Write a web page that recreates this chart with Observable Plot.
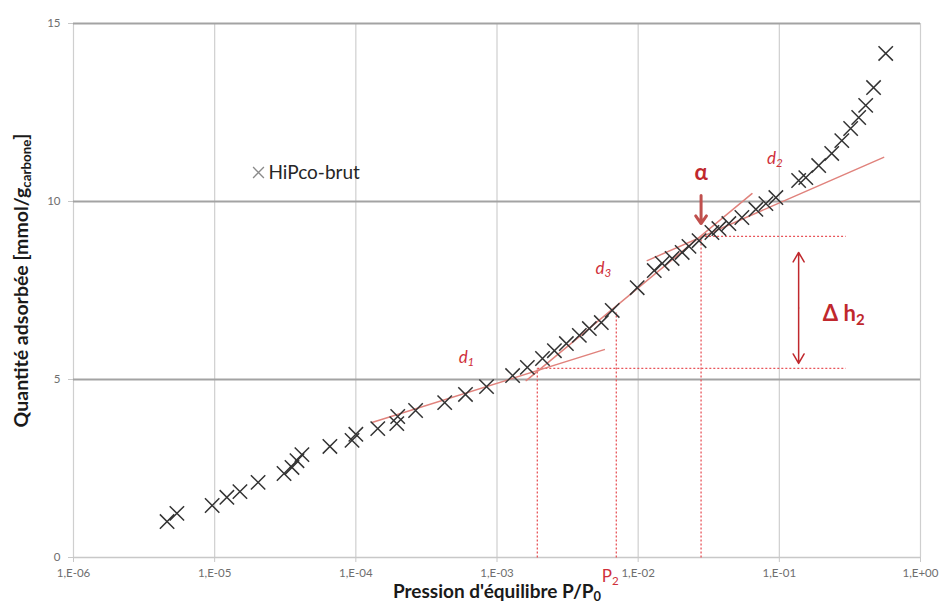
<!DOCTYPE html>
<html>
<head>
<meta charset="utf-8">
<script src="https://cdn.jsdelivr.net/npm/d3@7"></script>
<script src="https://cdn.jsdelivr.net/npm/@observablehq/plot@0.6"></script>
<style>
  html, body { margin: 0; padding: 0; background: #fff; }
  svg { display: block; }
</style>
</head>
<body>
<div id="chart"></div>
<script>
// ---- Data ----
const pressure = [4.6e-6, 5.4e-6, 9.6e-6, 1.22e-5, 1.51e-5, 2.03e-5, 3.1e-5, 3.53e-5, 3.83e-5, 4.15e-5,
  6.55e-5, 9.4e-5, 1.0e-4, 1.43e-4, 1.95e-4, 1.98e-4, 2.65e-4, 4.26e-4, 5.98e-4, 8.43e-4,
  1.29e-3, 1.64e-3, 2.10e-3, 2.55e-3, 3.10e-3, 3.83e-3, 4.51e-3, 5.48e-3, 6.55e-3, 9.84e-3,
  1.30e-2, 1.48e-2, 1.74e-2, 2.05e-2, 2.29e-2, 2.70e-2, 3.33e-2, 3.73e-2, 4.39e-2, 5.43e-2,
  6.82e-2, 8.03e-2, 9.45e-2, 0.137, 0.154, 0.190, 0.235, 0.277, 0.320, 0.365, 0.409, 0.465, 0.567];
const quantity = [1.01, 1.24, 1.46, 1.69, 1.85, 2.11, 2.36, 2.53, 2.72, 2.89,
  3.12, 3.29, 3.46, 3.62, 3.76, 3.96, 4.13, 4.35, 4.58, 4.80,
  5.11, 5.34, 5.59, 5.81, 6.01, 6.24, 6.43, 6.60, 6.94, 7.58,
  8.06, 8.26, 8.40, 8.57, 8.74, 8.90, 9.13, 9.24, 9.38, 9.55,
  9.78, 9.94, 10.11, 10.59, 10.67, 11.01, 11.35, 11.71, 12.05, 12.36, 12.70, 13.20, 14.16];

const seriesName = "HiPco-brut";
const xTicks = [1e-6, 1e-5, 1e-4, 1e-3, 1e-2, 1e-1, 1];
const yTicks = [0, 5, 10, 15];
const yMajorGrid = [5, 10, 15];

// tangent lines (endpoints in data units)
const tangentNames = ["d1", "d3", "d2"];
const tangentX = [[1.30e-4, 5.75e-3], [1.61e-3, 6.40e-2], [1.16e-2, 0.548]];
const tangentY = [[3.79, 5.84], [4.97, 10.22], [8.34, 11.24]];

// dotted construction lines: [x1, y1, x2, y2]
const guideX1 = [1.93e-3, 1.93e-3, 7.0e-3, 2.79e-2, 2.79e-2];
const guideY1 = [5.31, 0, 0, 0, 9.02];
const guideX2 = [0.295, 1.93e-3, 7.0e-3, 2.79e-2, 0.295];
const guideY2 = [5.31, 5.31, 6.88, 8.99, 9.02];

// arrows
const alphaArrow = {x: 2.79e-2, y1: 10.17, y2: 9.38};
const deltaArrow = {x: 0.137, y1: 5.45, y2: 8.57};

// annotation labels
const labelText = ["α", "Δ h_{2}"];
const labelX = [2.79e-2, 0.286];
const labelY = [10.81, 6.85];
const tangentLabelText = ["d_{1}", "d_{3}", "d_{2}"];
const tangentLabelX = [6.08e-4, 5.66e-3, 9.3e-2];
const tangentLabelY = [5.62, 8.12, 11.21];
const p2Label = "P_{2}";
const p2X = 7.0e-3;

const xLabel = "Pression d'équilibre P/P_{0}";
const yLabel = "Quantité adsorbée [mmol/g_{carbone}]";

// ---- Build tables ----
const points = pressure.map((p, i) => ({p, q: quantity[i]}));
const tangents = tangentX.flatMap((xs, k) => xs.map((x, j) => ({name: tangentNames[k], x, y: tangentY[k][j]})));
const guides = guideX1.map((x1, i) => ({x1, y1: guideY1[i], x2: guideX2[i], y2: guideY2[i]}));
const bigLabels = labelText.map((t, i) => ({t, x: labelX[i], y: labelY[i]}));
const dLabels = tangentLabelText.map((t, i) => ({t, x: tangentLabelX[i], y: tangentLabelY[i]}));
const deltaMid = (deltaArrow.y1 + deltaArrow.y2) / 2;

const RED = "#c0282d";
const FONT = "Lato, 'Open Sans', sans-serif";

const fmt = d => {
  const e = Math.round(Math.log10(d));
  return "1,E" + (e < 0 ? "-" : "+") + String(Math.abs(e)).padStart(2, "0");
};

const chart = Plot.plot({
  width: 940,
  height: 603,
  marginLeft: 73,
  marginRight: 20,
  marginTop: 23,
  marginBottom: 46,
  style: {fontFamily: FONT, fontSize: "11.5px", background: "#fff", overflow: "visible"},
  x: {type: "log", domain: [1e-6, 1]},
  y: {domain: [0, 15]},
  marks: [
    Plot.gridX(xTicks, {stroke: "#cfcfcf", strokeOpacity: 1, strokeWidth: 1.2}),
    Plot.gridY(yMajorGrid, {stroke: "#a3a3a3", strokeOpacity: 1, strokeWidth: 1.8}),
    Plot.ruleY([0], {stroke: "#c8c8c8", strokeWidth: 1.5}),
    Plot.axisX(xTicks, {tickFormat: fmt, tickSize: 5, tickPadding: 6, stroke: "#c8c8c8", fill: "#6e6e6e", label: null}),
    Plot.axisY(yTicks, {tickSize: 5, tickPadding: 8, stroke: "#c8c8c8", fill: "#6e6e6e", label: null}),
    // dotted construction lines
    Plot.link(guides, {x1: "x1", y1: "y1", x2: "x2", y2: "y2", stroke: "#e8555a", strokeWidth: 1.3, strokeDasharray: "2,2"}),
    // tangents
    Plot.line(tangents, {x: "x", y: "y", z: "name", stroke: "#e0827c", strokeWidth: 1.5}),
    // data
    Plot.dot(points, {x: "p", y: "q", symbol: "times", r: 6.6, stroke: "#333", strokeWidth: 1.5}),
    // arrows
    Plot.arrow([alphaArrow], {x: "x", y1: "y1", y2: "y2", stroke: "#c0504d", strokeWidth: 3, headLength: 12, headAngle: 70}),
    Plot.arrow([deltaArrow], {x: "x", y1: () => deltaMid, y2: "y1", stroke: RED, strokeWidth: 1.5, headLength: 11, headAngle: 60}),
    Plot.arrow([deltaArrow], {x: "x", y1: () => deltaMid, y2: "y2", stroke: RED, strokeWidth: 1.5, headLength: 11, headAngle: 60}),
    // labels
    Plot.text(bigLabels, {x: "x", y: "y", text: "t", fill: RED, fontSize: 22, fontWeight: "bold"}),
    Plot.text(dLabels, {x: "x", y: "y", text: "t", fill: "#d0303a", fontSize: 17, fontStyle: "italic"}),
    Plot.text([p2Label], {x: () => p2X, text: d => d, frameAnchor: "bottom", lineAnchor: "middle", dy: 19, dx: -6, fill: "#d0303a", fontSize: 17}),
    // legend
    Plot.dot([seriesName], {frameAnchor: "top-left", dx: 185, dy: 149, symbol: "times", r: 5, stroke: "#8a8a8a", strokeWidth: 1.3}),
    Plot.text([seriesName], {frameAnchor: "top-left", dx: 195, dy: 149, text: d => d, textAnchor: "start", lineAnchor: "middle", fill: "#262626", fontSize: 19}),
    // axis titles
    Plot.text([xLabel], {frameAnchor: "bottom", dy: 34, lineAnchor: "middle", textAnchor: "middle", text: d => d, fill: "#1a1a1a", fontSize: 19, fontWeight: "bold"}),
    Plot.text([yLabel], {frameAnchor: "left", dx: -52, dy: -10, rotate: -90, lineAnchor: "middle", textAnchor: "middle", text: d => d, fill: "#1a1a1a", fontSize: 19.5, fontWeight: "bold"})
  ]
});

document.getElementById("chart").appendChild(chart);

// Convert "_{...}" markup into real SVG subscripts
d3.select(chart).selectAll("text, tspan").each(function () {
  if (this.children.length) return;
  const s = this.textContent;
  if (!s.includes("_{")) return;
  const fs = parseFloat(getComputedStyle(this).fontSize) || 12;
  const shift = fs * 0.18;
  const parts = s.split(/(_\{[^}]*\})/).filter(Boolean);
  this.textContent = "";
  let shifted = false;
  for (const part of parts) {
    const ts = document.createElementNS("http://www.w3.org/2000/svg", "tspan");
    if (part.startsWith("_{")) {
      ts.textContent = part.slice(2, -1);
      ts.setAttribute("dy", shift);
      ts.setAttribute("font-size", (fs * 0.68).toFixed(1));
      shifted = true;
    } else {
      ts.textContent = part;
      if (shifted) { ts.setAttribute("dy", -shift); shifted = false; }
    }
    this.appendChild(ts);
  }
});
</script>
</body>
</html>
